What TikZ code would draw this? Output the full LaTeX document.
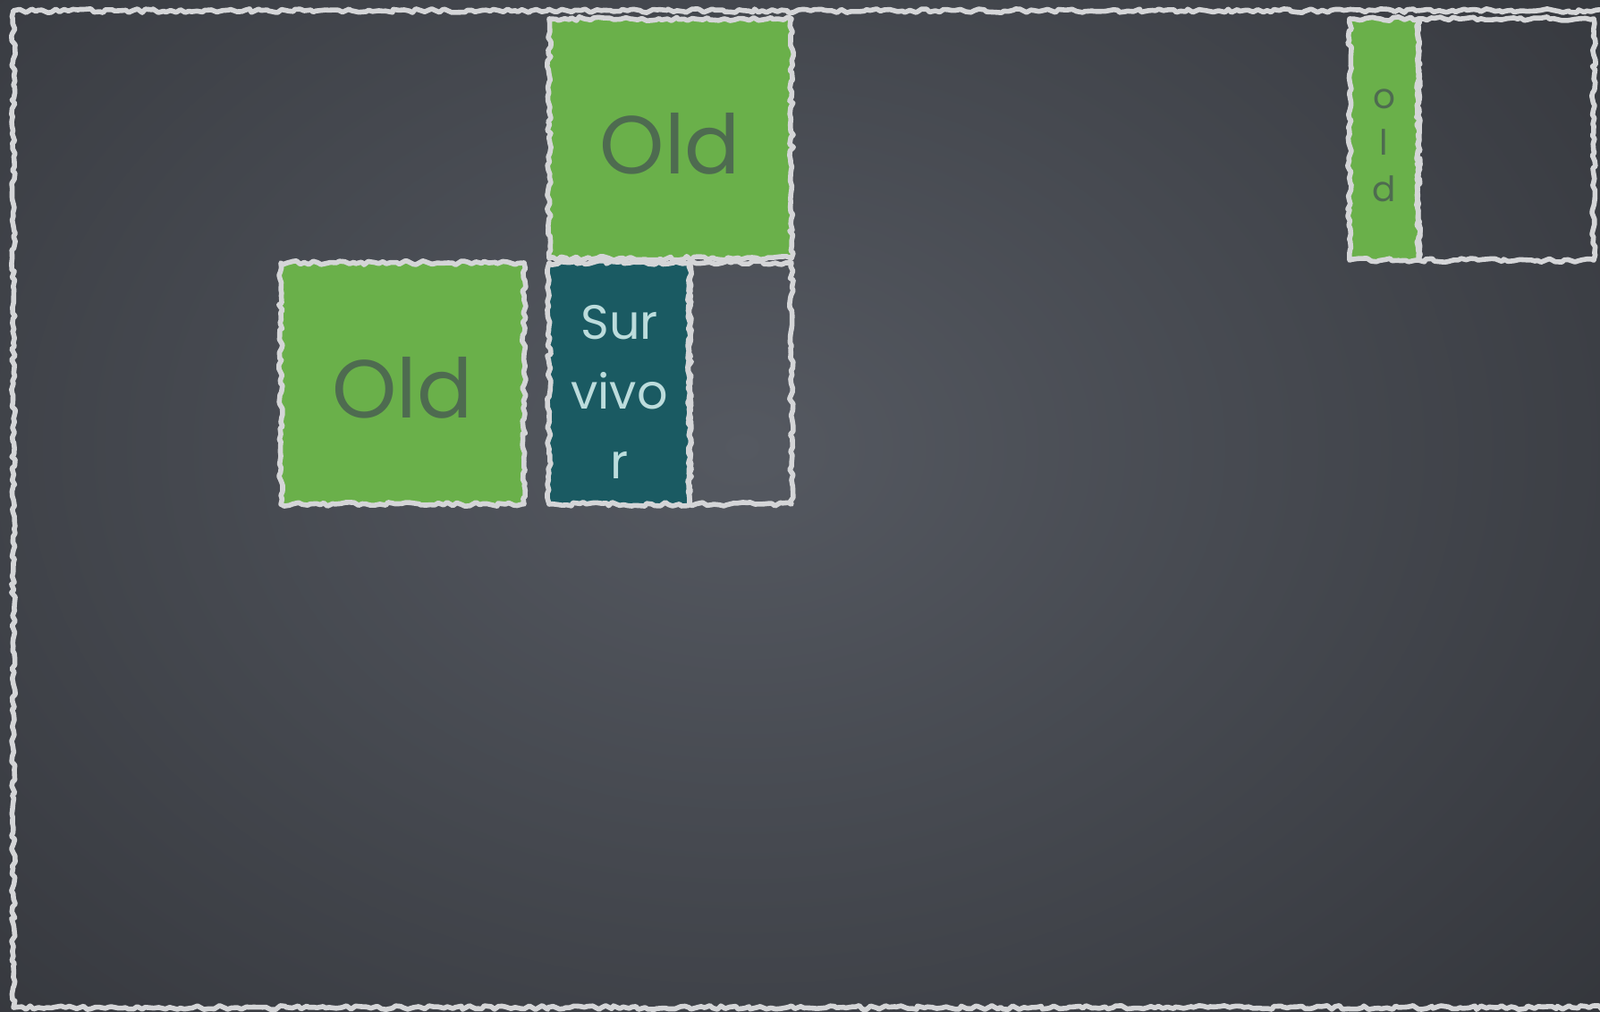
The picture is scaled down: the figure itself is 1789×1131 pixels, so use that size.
\documentclass[tikz,border=0pt]{standalone}
\usepackage{fontspec}
\setmainfont{Poppins}
\usetikzlibrary{decorations.pathmorphing}
\definecolor{bgin}{HTML}{555961}
\definecolor{bgout}{HTML}{2C2E33}
\definecolor{chalk}{HTML}{D4D5D7}
\definecolor{oldgreen}{HTML}{6AB04A}
\definecolor{oldtext}{HTML}{4E6B50}
\definecolor{teal}{HTML}{1A5A62}
\definecolor{survtext}{HTML}{BCDCDC}
\begin{document}
\begin{tikzpicture}[x=0.5pt,y=-0.5pt,
  chalk/.style={draw=chalk, line width=2.8pt, line join=round,
    decorate, decoration={random steps, segment length=2.4pt, amplitude=1.1pt}},
  cell/.style={rectangle, inner sep=0pt, outer sep=0pt},
  oldcell/.style={cell, fill=oldgreen},
  survcell/.style={cell, fill=teal},
  emptycell/.style={cell},
  oldlabel/.style={inner sep=0pt, align=center, text=oldtext},
  survlabel/.style={inner sep=0pt, align=center, text=survtext}]
\useasboundingbox (0,0) rectangle (1789,1131);
\clip (0,0) rectangle (1789,1131);
% background
\shade[inner color=bgin, outer color=bgout] (-770,-700) rectangle (2430,1700);
% outer frame (open to the right)
\draw[chalk] (1800,12) -- (15,12) -- (15,1127) -- (1800,1127);
% cells
\node[oldcell, minimum width=135.5pt, minimum height=134pt] (oldtop) at (749.5,155) {};
\node[oldcell, minimum width=136pt, minimum height=135pt] (oldleft) at (450,429) {};
\node[survcell, minimum width=78.5pt, minimum height=135pt] (surv) at (692.5,429) {};
\node[emptycell, minimum width=57pt, minimum height=135pt] (survfree) at (828,429) {};
\node[oldcell, minimum width=38.5pt, minimum height=135pt] (oldright) at (1547.5,156) {};
\node[emptycell, minimum width=98pt, minimum height=135pt] (rightfree) at (1684,156) {};
% labels
\node[oldlabel, font=\fontsize{46}{50}\selectfont] (oldtoptext) at ([yshift=-3pt]oldtop.center) {Old};
\node[oldlabel, font=\fontsize{46}{50}\selectfont] (oldlefttext) at ([yshift=-2.5pt]oldleft.center) {Old};
\node[survlabel, font=\fontsize{27}{39}\selectfont] (survtext) at ([yshift=-4.5pt]surv.center) {Sur\\vivo\\r};
\node[oldlabel, font=\fontsize{19.5}{26}\selectfont] (oldrighttext) at ([yshift=-3.5pt]oldright.center) {o\\l\\d};
% chalk borders
\draw[chalk] (oldtop.north west) rectangle (oldtop.south east);
\draw[chalk] (oldleft.north west) rectangle (oldleft.south east);
\draw[chalk] (surv.north west) rectangle (surv.south east);
\draw[chalk] (survfree.north west) rectangle (survfree.south east);
\draw[chalk] (oldright.north west) rectangle (oldright.south east);
\draw[chalk] (rightfree.north west) rectangle (rightfree.south east);
\end{tikzpicture}
\end{document}
